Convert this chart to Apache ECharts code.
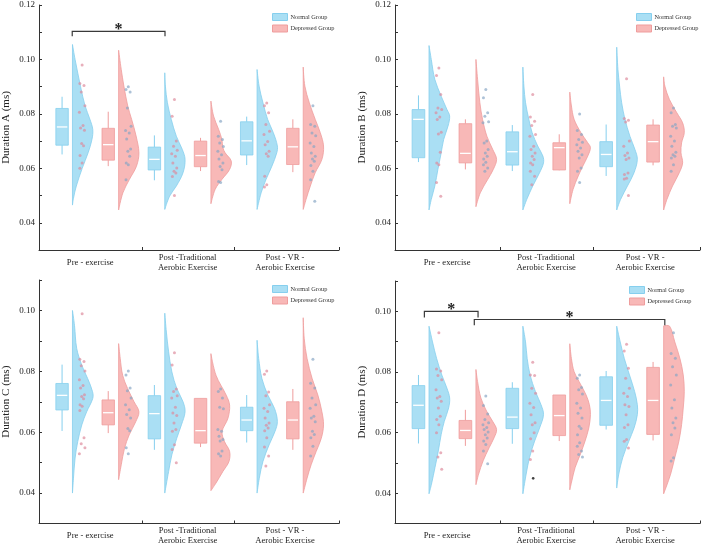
<!DOCTYPE html>
<html><head><meta charset="utf-8">
<script src="https://cdn.jsdelivr.net/npm/echarts@6/dist/echarts.min.js"></script>
<style>html,body{margin:0;padding:0;background:#fff}#c{width:702px;height:546px}</style>
</head><body><div id="c"></div>
<script>
// ---------------- DATA ----------------
const categories = ['Pre - exercise', 'Post -Traditional\nAerobic Exercise', 'Post - VR -\nAerobic Exercise'];
const groupNames = ['Normal Group', 'Depressed Group'];
const yTitles = ['Duration A (ms)', 'Duration B (ms)', 'Duration C (ms)', 'Duration D (ms)'];
const yMaxes = [0.12, 0.12, 0.11, 0.11];
const yMin = 0.03;

// box stats per category: [lower whisker, Q1, median, Q3, upper whisker]
const boxA_normal = [[0.0651,0.0685,0.0752,0.0820,0.0863],[0.0556,0.0594,0.0633,0.0678,0.0721],[0.0612,0.0649,0.0701,0.0771,0.0790]];
const boxA_depressed = [[0.0608,0.0630,0.0687,0.0747,0.0808],[0.0590,0.0606,0.0647,0.0700,0.0712],[0.0586,0.0614,0.0679,0.0747,0.0780]];
const boxB_normal = [[0.0623,0.0639,0.0780,0.0816,0.0868],[0.0590,0.0612,0.0661,0.0734,0.0759],[0.0572,0.0606,0.0651,0.0698,0.0761]];
const boxB_depressed = [[0.0596,0.0620,0.0655,0.0764,0.0780],[0.0593,0.0594,0.0676,0.0694,0.0725],[0.0611,0.0623,0.0698,0.0759,0.0780]];
const boxC_normal = [[0.0604,0.0673,0.0721,0.0760,0.0822],[0.0542,0.0578,0.0661,0.0720,0.0755],[0.0566,0.0605,0.0640,0.0682,0.0722]];
const boxC_depressed = [[0.0597,0.0624,0.0664,0.0706,0.0735],[0.0551,0.0564,0.0605,0.0711,0.0711],[0.0542,0.0578,0.0640,0.0700,0.0742]];
const boxD_normal = [[0.0564,0.0613,0.0690,0.0755,0.0790],[0.0563,0.0613,0.0651,0.0746,0.0766],[0.0610,0.0624,0.0706,0.0784,0.0803]];
const boxD_depressed = [[0.0556,0.0580,0.0607,0.0640,0.0675],[0.0572,0.0590,0.0656,0.0724,0.0724],[0.0574,0.0594,0.0706,0.0815,0.0833]];

// violin density profiles per category: [value, relative density]
const violinA_normal = [
  [[0.1055,0],[0.100,0.13],[0.090,0.40],[0.083,0.62],[0.078,0.86],[0.0743,1.0],[0.0706,0.96],[0.0657,0.77],[0.060,0.48],[0.0535,0.19],[0.049,0.05],[0.0465,0]],
  [[0.0951,0],[0.0902,0.03],[0.0841,0.13],[0.078,0.32],[0.0718,0.57],[0.067,0.86],[0.0633,1.0],[0.0584,0.90],[0.0535,0.57],[0.0498,0.24],[0.0449,0]],
  [[0.0963,0],[0.0902,0.10],[0.0841,0.29],[0.078,0.52],[0.0731,0.80],[0.0682,1.0],[0.0657,0.97],[0.0608,0.73],[0.0559,0.44],[0.051,0.20],[0.0449,0]]
];
const violinA_depressed = [
  [[0.1034,0],[0.0963,0.13],[0.0902,0.26],[0.0829,0.45],[0.078,0.64],[0.0719,0.86],[0.0657,1.0],[0.0608,0.88],[0.0559,0.53],[0.051,0.21],[0.0447,0]],
  [[0.0847,0],[0.0792,0.13],[0.0743,0.38],[0.0706,0.54],[0.0676,0.59],[0.0657,0.70],[0.0627,1.0],[0.0596,0.92],[0.0559,0.54],[0.0523,0.21],[0.047,0]],
  [[0.0972,0],[0.0902,0.08],[0.0841,0.30],[0.078,0.59],[0.0731,0.84],[0.0682,1.0],[0.0633,0.92],[0.0584,0.59],[0.0535,0.35],[0.0486,0.14],[0.0449,0]]
];
const violinB_normal = [
  [[0.1051,0],[0.100,0.11],[0.0927,0.28],[0.0865,0.59],[0.0816,0.87],[0.0792,1.0],[0.0755,0.92],[0.0706,0.71],[0.0657,0.59],[0.0596,0.43],[0.0535,0.28],[0.0486,0.11],[0.0447,0]],
  [[0.0972,0],[0.0902,0.05],[0.0841,0.13],[0.078,0.29],[0.0731,0.45],[0.0682,0.72],[0.0645,0.97],[0.062,1.0],[0.0584,0.81],[0.0535,0.48],[0.0486,0.19],[0.0447,0]],
  [[0.1045,0],[0.0963,0.06],[0.0902,0.14],[0.0841,0.24],[0.078,0.40],[0.0718,0.64],[0.067,0.88],[0.0633,1.0],[0.0584,0.84],[0.0535,0.52],[0.0486,0.19],[0.0447,0]]
];
const violinB_depressed = [
  [[0.100,0],[0.0927,0.08],[0.0841,0.19],[0.078,0.32],[0.0718,0.53],[0.067,0.81],[0.0633,1.0],[0.0596,0.84],[0.0559,0.57],[0.051,0.21],[0.0459,0]],
  [[0.088,0],[0.0829,0.08],[0.078,0.21],[0.0731,0.54],[0.0694,0.87],[0.0676,1.0],[0.0645,0.87],[0.0608,0.63],[0.0572,0.41],[0.0523,0.16],[0.047,0]],
  [[0.0936,0],[0.0902,0.06],[0.0853,0.28],[0.0804,0.64],[0.0767,0.92],[0.0731,1.0],[0.0694,0.87],[0.0657,0.84],[0.062,0.92],[0.0584,0.76],[0.0535,0.43],[0.0486,0.16],[0.0447,0]]
];
const violinC_normal = [
  [[0.100,0],[0.0951,0.10],[0.0875,0.21],[0.082,0.46],[0.0776,0.75],[0.0733,0.99],[0.0711,1.0],[0.0667,0.70],[0.0624,0.46],[0.0569,0.26],[0.0515,0.13],[0.0449,0.05],[0.040,0]],
  [[0.0991,0],[0.0929,0.08],[0.0864,0.19],[0.0798,0.35],[0.0744,0.59],[0.070,0.90],[0.0667,1.0],[0.0624,0.82],[0.058,0.59],[0.0526,0.35],[0.0471,0.19],[0.040,0]],
  [[0.0902,0],[0.0842,0.08],[0.0776,0.24],[0.0722,0.53],[0.0678,0.86],[0.0635,1.0],[0.0602,0.88],[0.0558,0.59],[0.0504,0.29],[0.0449,0.11],[0.040,0]]
];
const violinC_depressed = [
  [[0.0891,0],[0.0842,0.08],[0.0787,0.20],[0.0744,0.44],[0.070,0.76],[0.0667,1.0],[0.0634,0.84],[0.0591,0.52],[0.0547,0.29],[0.0493,0.13],[0.0444,0]],
  [[0.0858,0],[0.0787,0.25],[0.0722,0.75],[0.0689,0.92],[0.0646,0.84],[0.0602,0.55],[0.0569,0.67],[0.0537,0.92],[0.0504,0.89],[0.0471,0.59],[0.0433,0.25],[0.0408,0]],
  [[0.0976,0],[0.0907,0.05],[0.0842,0.19],[0.0776,0.44],[0.0722,0.72],[0.0667,0.92],[0.0624,1.0],[0.058,0.89],[0.0537,0.64],[0.0493,0.39],[0.0449,0.19],[0.040,0]]
];
const violinD_normal = [
  [[0.0951,0],[0.0899,0.17],[0.0844,0.37],[0.079,0.62],[0.0746,0.87],[0.0714,1.0],[0.0681,0.95],[0.0637,0.74],[0.0594,0.59],[0.0539,0.45],[0.0485,0.29],[0.043,0.12],[0.0398,0]],
  [[0.0951,0],[0.0899,0.13],[0.0844,0.21],[0.079,0.35],[0.0735,0.61],[0.0692,0.88],[0.0659,1.0],[0.0615,0.81],[0.0572,0.57],[0.0517,0.32],[0.0463,0.16],[0.0398,0]],
  [[0.0951,0],[0.0899,0.17],[0.0844,0.37],[0.079,0.62],[0.0735,0.87],[0.0692,1.0],[0.0659,1.0],[0.0615,0.84],[0.0572,0.59],[0.0517,0.29],[0.0463,0.10],[0.0417,0]]
];
const violinD_depressed = [
  [[0.0808,0],[0.0768,0.08],[0.0714,0.24],[0.067,0.52],[0.0637,0.81],[0.061,1.0],[0.0583,0.88],[0.055,0.64],[0.0507,0.35],[0.0463,0.13],[0.0428,0]],
  [[0.0893,0],[0.0844,0.08],[0.0801,0.21],[0.0757,0.54],[0.0724,0.79],[0.0692,0.95],[0.0659,1.0],[0.0615,0.92],[0.0572,0.74],[0.0528,0.51],[0.0485,0.26],[0.0441,0.10],[0.0411,0]],
  [[0.0952,0],[0.0951,0.29],[0.0899,0.54],[0.0844,0.79],[0.079,0.95],[0.0735,1.0],[0.0681,0.95],[0.0626,0.87],[0.0572,0.74],[0.0517,0.54],[0.0463,0.34],[0.042,0.12],[0.0398,0]]
];

// individual observations per category
const ptsA_normal = [
  [0.098,0.0912,0.0904,0.088,0.083,0.0806,0.0757,0.0748,0.074,0.0691,0.0683,0.0647,0.062,0.060],
  [0.0853,0.0791,0.070,0.0681,0.0666,0.0654,0.0644,0.062,0.0601,0.0589,0.0583,0.057,0.050],
  [0.084,0.083,0.0804,0.0761,0.0736,0.0724,0.0699,0.0687,0.0663,0.0654,0.0644,0.0571,0.054,0.0531]
];
const ptsA_depressed = [
  [0.090,0.089,0.088,0.0822,0.0755,0.0739,0.073,0.0708,0.0671,0.0663,0.0644,0.062,0.0613,0.0558],
  [0.0773,0.0718,0.0706,0.0693,0.068,0.0663,0.065,0.0634,0.062,0.0607,0.0595,0.0552,0.0548],
  [0.083,0.0761,0.0755,0.073,0.072,0.0693,0.068,0.0656,0.0644,0.0634,0.0626,0.061,0.0589,0.0558,0.0479]
];
const ptsB_normal = [
  [0.0969,0.0941,0.0871,0.0822,0.0816,0.0804,0.0789,0.0779,0.0733,0.0726,0.0659,0.062,0.0613,0.0548,0.0497],
  [0.0871,0.0789,0.0773,0.0757,0.0724,0.0718,0.0681,0.0669,0.0656,0.0644,0.0632,0.062,0.0613,0.0589,0.0571,0.054],
  [0.0929,0.0783,0.0777,0.077,0.070,0.0681,0.0656,0.0647,0.0638,0.0632,0.0583,0.0577,0.0564,0.0561,0.050]
];
const ptsB_depressed = [
  [0.089,0.0859,0.0804,0.0791,0.0771,0.0767,0.070,0.0693,0.0669,0.0656,0.0644,0.0634,0.0622,0.0613,0.0601,0.0589],
  [0.080,0.0739,0.0724,0.0706,0.0696,0.0687,0.0675,0.0663,0.065,0.0638,0.0601,0.0589,0.0548],
  [0.0822,0.0804,0.0761,0.0755,0.0748,0.0718,0.070,0.0681,0.0659,0.065,0.0644,0.0638,0.0613,0.0589]
];
const ptsC_normal = [
  [0.0989,0.084,0.0832,0.0818,0.0801,0.0772,0.0753,0.0745,0.0723,0.0717,0.071,0.069,0.0685,0.0671,0.0582,0.0562,0.0549,0.0529],
  [0.0861,0.0821,0.0742,0.0734,0.072,0.0712,0.0682,0.0663,0.0655,0.063,0.0609,0.0603,0.0559,0.0543,0.050],
  [0.0801,0.079,0.0732,0.072,0.069,0.0679,0.0668,0.0647,0.063,0.0623,0.0614,0.0605,0.0582,0.0551,0.0522,0.0489]
];
const ptsC_depressed = [
  [0.0801,0.0788,0.0745,0.0736,0.0712,0.069,0.0674,0.0658,0.0647,0.0612,0.0605,0.0549,0.0529],
  [0.0742,0.0734,0.0712,0.0682,0.0677,0.0609,0.0603,0.0587,0.0576,0.0571,0.0538,0.0529,0.0522],
  [0.084,0.0761,0.0745,0.0712,0.069,0.0679,0.0652,0.0647,0.0634,0.0603,0.0592,0.0582,0.0554,0.0522]
];
const ptsD_normal = [
  [0.0929,0.081,0.0803,0.0788,0.0774,0.0741,0.0719,0.0714,0.0703,0.0681,0.0654,0.0643,0.0626,0.0599,0.0533,0.0519,0.0479],
  [0.0832,0.079,0.0788,0.0746,0.073,0.0697,0.0683,0.0659,0.0632,0.0626,0.0599,0.058,0.0539,0.0511],
  [0.0891,0.0869,0.0812,0.0779,0.0746,0.073,0.0719,0.0692,0.0686,0.0659,0.0626,0.0617,0.0577,0.0571,0.0549]
];
const ptsD_depressed = [
  [0.0721,0.0689,0.0661,0.0643,0.0632,0.0626,0.0617,0.061,0.0602,0.0593,0.0582,0.0572,0.0561,0.0539,0.0497],
  [0.079,0.0779,0.0749,0.0741,0.0727,0.0697,0.0681,0.0664,0.0648,0.0621,0.0613,0.0593,0.0566,0.0555,0.0539,0.0528,0.0519],
  [0.0929,0.0861,0.0845,0.0817,0.079,0.0757,0.0708,0.0681,0.0648,0.0632,0.0615,0.0593,0.0517,0.0506]
];
// outlier (black) in panel D, normal group, post-traditional
const outlierD_normal = [[], [0.0449], []];

// significance brackets: [from position, to position, bar level, end level]
const bracketsA = [[1.22, 3.23, 0.1103, 0.1085]];
const bracketsD = [[1.126, 2.27, 0.1000, 0.0980], [2.19, 6.25, 0.0973, 0.0954]];

// ---------------- STYLE / LAYOUT ----------------
const FONT = 'Liberation Serif';
const BLUE_FILL = '#aadff4', BLUE_EDGE = '#86cfee';
const PINK_FILL = '#f8b8b7', PINK_EDGE = '#ef9d9d';
const PT_NORMAL = 'rgba(222,138,156,0.85)', PT_DEP = 'rgba(135,165,196,0.85)';
const BOX_HALF = 0.135, VIOLIN_OFFSET = 0.225, VIOLIN_WIDTH = 0.44, PT_OFFSET = 0.435;
const JITTER = [0, -0.05, 0.04, -0.02, 0.06, -0.06, 0.02, -0.035, 0.05, -0.01, 0.03, -0.045];
const tickPos = [2.74, 4.72, 7];
const labelPos = [1.61, 3.72, 5.83];
const layout = [
  {left: 33, top: 5, width: 306, height: 245, lg: {left: 272, top: 13}},
  {left: 395, top: 5, width: 305, height: 245, lg: {left: 636, top: 13}},
  {left: 34, top: 280, width: 305, height: 245, lg: {left: 272, top: 285}},
  {left: 395, top: 281, width: 305, height: 245, lg: {left: 629, top: 286}}
];
const panels = [
  {box: [boxA_normal, boxA_depressed], vio: [violinA_normal, violinA_depressed], pts: [ptsA_normal, ptsA_depressed], br: bracketsA},
  {box: [boxB_normal, boxB_depressed], vio: [violinB_normal, violinB_depressed], pts: [ptsB_normal, ptsB_depressed], br: []},
  {box: [boxC_normal, boxC_depressed], vio: [violinC_normal, violinC_depressed], pts: [ptsC_normal, ptsC_depressed], br: []},
  {box: [boxD_normal, boxD_depressed], vio: [violinD_normal, violinD_depressed], pts: [ptsD_normal, ptsD_depressed], br: bracketsD, out: outlierD_normal}
];
const groupPos = (g, c) => 1 + g + 2 * c;

function violinRenderer(profiles, fill, edge) {
  return function (params, api) {
    const pos = api.value(0);
    const prof = profiles[params.dataIndex];
    const x0 = pos + VIOLIN_OFFSET;
    const pts = prof.map(([v, d]) => api.coord([x0 + d * VIOLIN_WIDTH, v]));
    const top = api.coord([x0, prof[0][0]]);
    const bot = api.coord([x0, prof[prof.length - 1][0]]);
    return {type: 'group', children: [
      {type: 'polyline', shape: {points: pts, smooth: 0.35}, style: {fill: fill, stroke: edge, lineWidth: 0.8}},
      {type: 'line', shape: {x1: top[0], y1: top[1], x2: bot[0], y2: bot[1]}, style: {stroke: edge, lineWidth: 0.8}}
    ]};
  };
}
function boxRenderer(fill, edge) {
  return function (params, api) {
    const pos = api.value(0);
    const lo = api.value(1), q1 = api.value(2), md = api.value(3), q3 = api.value(4), hi = api.value(5);
    const tl = api.coord([pos - BOX_HALF, q3]), br = api.coord([pos + BOX_HALF, q1]);
    const mL = api.coord([pos - BOX_HALF, md]), mR = api.coord([pos + BOX_HALF, md]);
    const pHi = api.coord([pos, hi]), pQ3 = api.coord([pos, q3]), pQ1 = api.coord([pos, q1]), pLo = api.coord([pos, lo]);
    return {type: 'group', children: [
      {type: 'line', shape: {x1: pHi[0], y1: pHi[1], x2: pQ3[0], y2: pQ3[1]}, style: {stroke: edge, lineWidth: 1}},
      {type: 'line', shape: {x1: pQ1[0], y1: pQ1[1], x2: pLo[0], y2: pLo[1]}, style: {stroke: edge, lineWidth: 1}},
      {type: 'rect', shape: {x: tl[0], y: tl[1], width: br[0] - tl[0], height: br[1] - tl[1]}, style: {fill: fill, stroke: edge, lineWidth: 0.8}},
      {type: 'line', shape: {x1: mL[0] + 1, y1: mL[1], x2: mR[0] - 1, y2: mR[1]}, style: {stroke: '#ffffff', lineWidth: 1.3}}
    ]};
  };
}
function bracketRenderer(params, api) {
  const x1 = api.value(0), x2 = api.value(1), y = api.value(2), ye = api.value(3);
  const a = api.coord([x1, ye]), b = api.coord([x1, y]), c = api.coord([x2, y]), d = api.coord([x2, ye]);
  return {type: 'group', children: [
    {type: 'polyline', shape: {points: [a, b, c, d]}, style: {stroke: '#3a3a3a', lineWidth: 1.2, fill: null}},
    {type: 'text', x: (b[0] + c[0]) / 2, y: b[1] - 1.5, style: {text: '*', fontFamily: FONT, fontSize: 16, fontWeight: 'bold', fill: '#222', align: 'center', verticalAlign: 'middle'}}
  ]};
}

const grids = [], xAxes = [], yAxes = [], legends = [], series = [];
panels.forEach((P, p) => {
  const L = layout[p];
  grids.push({left: L.left, top: L.top, width: L.width, height: L.height, containLabel: false});
  xAxes.push({
    type: 'value', gridIndex: p, min: 0.5, max: 7,
    axisLine: {show: true, lineStyle: {color: '#333', width: 1}},
    axisTick: {show: true, inside: true, length: 3, customValues: tickPos, lineStyle: {color: '#333'}},
    axisLabel: {show: true, customValues: labelPos, fontFamily: FONT, fontSize: 8.6, color: '#222', lineHeight: 10, verticalAlign: 'middle', margin: 12.5,
      formatter: (v) => { const i = labelPos.findIndex(q => Math.abs(q - v) < 1e-6); return i >= 0 ? categories[i] : ''; }},
    splitLine: {show: false}
  });
  yAxes.push({
    type: 'value', gridIndex: p, min: yMin, max: yMaxes[p], interval: 0.01,
    name: yTitles[p], nameLocation: 'middle', nameGap: 27,
    nameTextStyle: {fontFamily: FONT, fontSize: 11, color: '#222'},
    axisLine: {show: true, lineStyle: {color: '#333', width: 1}},
    axisTick: {show: true, inside: true, length: 3, lineStyle: {color: '#333'}},
    axisLabel: {fontFamily: FONT, fontSize: 9, color: '#222', margin: 4,
      formatter: (v) => { const k = Math.round(v * 100); return (k % 2 === 0) ? (k / 100).toFixed(2) : ''; }},
    splitLine: {show: false}
  });
  legends.push({
    left: L.lg.left, top: L.lg.top, orient: 'vertical', padding: 0, itemWidth: 15, itemHeight: 7, itemGap: 3.5,
    icon: 'rect', selectedMode: false,
    textStyle: {fontFamily: FONT, fontSize: 6.3, color: '#333', padding: [0, 0, 0, -2]},
    data: [
      {name: groupNames[0], itemStyle: {color: BLUE_FILL, borderColor: BLUE_EDGE, borderWidth: 1}},
      {name: groupNames[1], itemStyle: {color: PINK_FILL, borderColor: PINK_EDGE, borderWidth: 1}}
    ]
  });
  [0, 1].forEach(g => {
    const fill = g === 0 ? BLUE_FILL : PINK_FILL, edge = g === 0 ? BLUE_EDGE : PINK_EDGE;
    series.push({
      type: 'custom', name: groupNames[g], xAxisIndex: p, yAxisIndex: p, z: 2, silent: true,
      itemStyle: {color: fill},
      renderItem: violinRenderer(P.vio[g], fill, edge),
      data: P.vio[g].map((prof, c) => [groupPos(g, c), prof[0][0]])
    });
    series.push({
      type: 'custom', name: groupNames[g], xAxisIndex: p, yAxisIndex: p, z: 3, silent: true,
      itemStyle: {color: fill},
      renderItem: boxRenderer(fill, edge),
      data: P.box[g].map((s, c) => [groupPos(g, c)].concat(s))
    });
    const sdata = [];
    P.pts[g].forEach((arr, c) => arr.forEach((v, i) => sdata.push([groupPos(g, c) + PT_OFFSET + JITTER[i % JITTER.length], v])));
    series.push({
      type: 'scatter', name: groupNames[g], xAxisIndex: p, yAxisIndex: p, z: 4, silent: true,
      symbolSize: 3, itemStyle: {color: g === 0 ? PT_NORMAL : PT_DEP},
      data: sdata
    });
  });
  if (P.out) {
    const od = [];
    P.out.forEach((arr, c) => arr.forEach(v => od.push([groupPos(0, c) + PT_OFFSET + 0.01, v])));
    series.push({type: 'scatter', xAxisIndex: p, yAxisIndex: p, z: 5, silent: true, symbolSize: 2.6, itemStyle: {color: '#111'}, data: od});
  }
  if (P.br.length) {
    series.push({type: 'custom', xAxisIndex: p, yAxisIndex: p, z: 6, silent: true, renderItem: bracketRenderer, data: P.br});
  }
});

const chart = echarts.init(document.getElementById('c'), null, {renderer: 'canvas'});
chart.setOption({
  animation: false,
  backgroundColor: '#ffffff',
  grid: grids, xAxis: xAxes, yAxis: yAxes, legend: legends, series: series
});
</script></body></html>
